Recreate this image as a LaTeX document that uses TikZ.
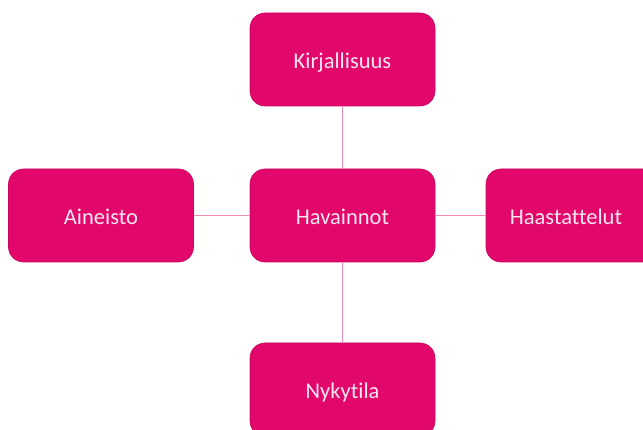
\documentclass[tikz,border=0pt]{standalone}
\usepackage{fontspec}
\setmainfont[Ligatures={NoCommon}]{Carlito}
\definecolor{boxfill}{HTML}{E2076B}
\definecolor{boxedge}{HTML}{C8065E}
\definecolor{boxtext}{HTML}{FCE6F0}
\definecolor{linkcol}{HTML}{F08DBA}
\begin{document}
\begin{tikzpicture}[x=1pt,y=-1pt,
  blob/.style={draw=boxedge, line width=0.6pt, fill=boxfill, rounded corners=15pt,
    minimum width=185pt, minimum height=93pt, inner sep=0pt,
    text height=18pt, text depth=0pt,
    text=boxtext, font=\fontsize{22.5}{26}\selectfont},
  link/.style={draw=linkcol, line width=0.9pt}]
\path[use as bounding box, clip] (0,0) rectangle (643,430);
\fill[white] (0,0) rectangle (643,430);
\node[blob] (c) at (342.5,215.5) {Havainnot};
\node[blob] (t) at (342.5,59.5) {Kirjallisuus};
\node[blob] (l) at (101,215.5) {Aineisto};
\node[blob] (r) at (578.5,215.5) {\hspace*{-25pt}Haastattelut};
\node[blob] (b) at (342.5,389.5) {Nykytila};
\draw[link] (t) -- (c);
\draw[link] (c) -- (b);
\draw[link] (l) -- (c);
\draw[link] (c) -- (r);
\end{tikzpicture}
\end{document}
